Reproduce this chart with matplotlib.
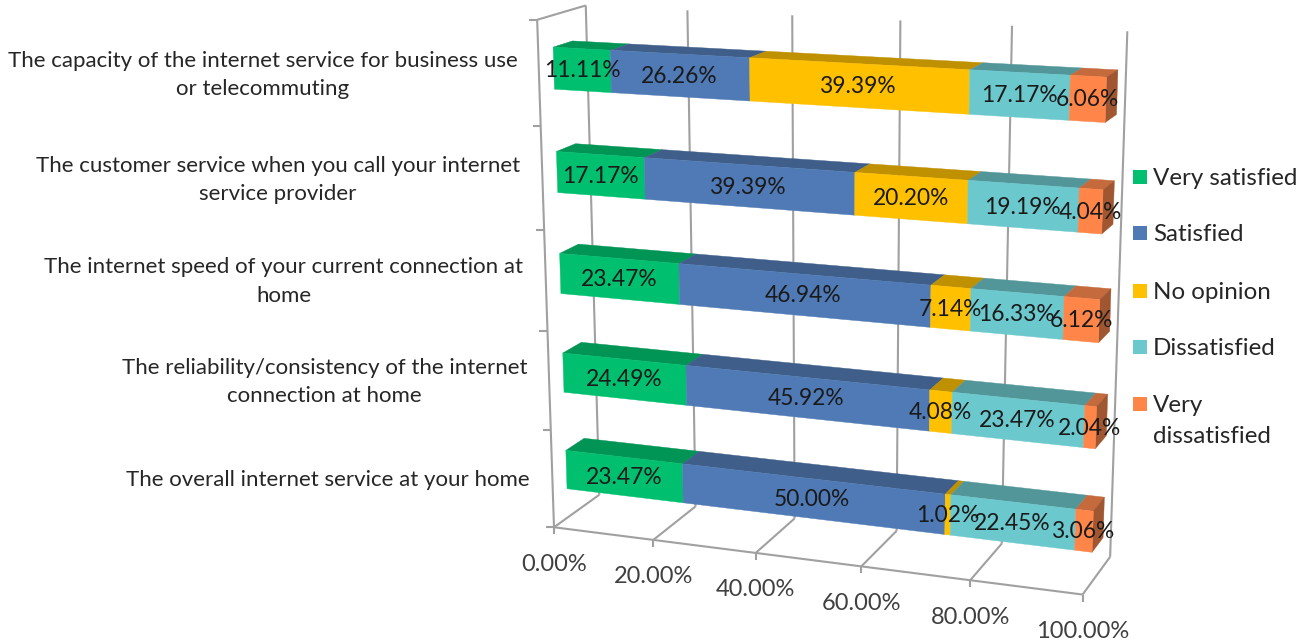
import matplotlib
matplotlib.use('Agg')
import matplotlib.pyplot as plt
import numpy as np
from matplotlib.patches import Polygon, Rectangle

plt.rcParams['font.family'] = ['Lato', 'DejaVu Sans']

# rows listed bottom to top
series_names = ['Very satisfied', 'Satisfied', 'No opinion', 'Dissatisfied', 'Very dissatisfied']
very_satisfied = [23.47, 24.49, 23.47, 17.17, 11.11]
satisfied = [50.00, 45.92, 46.94, 39.39, 26.26]
no_opinion = [1.02, 4.08, 7.14, 20.20, 39.39]
dissatisfied = [22.45, 23.47, 16.33, 19.19, 17.17]
very_dissatisfied = [3.06, 2.04, 6.12, 4.04, 6.06]
x_ticks = [0, 20, 40, 60, 80, 100]
category_lines = [
    ['The overall internet service at your home'],
    ['The reliability/consistency of the internet', 'connection at home'],
    ['The internet speed of your current connection at', 'home'],
    ['The customer service when you call your internet', 'service provider'],
    ['The capacity of the internet service for business use', 'or telecommuting'],
]
legend_lines = [['Very satisfied'], ['Satisfied'], ['No opinion'], ['Dissatisfied'], ['Very', 'dissatisfied']]

front_colors = ['#00BF6F', '#4F7AB5', '#FFC000', '#6BC8CD', '#FF8549']
top_colors = ['#009455', '#3F5F8A', '#BF9000', '#539699', '#C46A3C']
side_colors = ['#007A46', '#344E72', '#9E7700', '#447C7E', '#A05630']
grid_color = '#A0A0A0'

# perspective camera fitted on the frame corners: (value, depth, height) -> pixel
calib_world = [
    (0, 0, 0), (20, 0, 0), (40, 0, 0), (60, 0, 0), (80, 0, 0), (100, 0, 0),
    (0, 1, 0), (100, 1, 0), (0, 0, 1),
    (0, 1, 1), (20, 1, 1), (40, 1, 1), (60, 1, 1), (80, 1, 1), (100, 1, 1),
    (0, .3, .14), (0, .3, .06), (0, .7, .14),
    (100, .3, .14), (100, .3, .06), (100, .7, .14),
    (0, .3, .94), (0, .3, .86), (0, .7, .94),
    (100, .3, .94), (100, .3, .86), (100, .7, .94),
]
calib_pixel = [
    (555, 527), (653, 539), (756, 553), (861, 567), (970, 581), (1082, 594),
    (599, 494), (1110, 557), (537, 20),
    (587, 5), (688, 10), (792, 15), (900, 20), (1012, 25), (1127, 32),
    (566, 451), (566.5, 489), (584, 439),
    (1094, 510), (1093, 552), (1104, 498),
    (553, 47), (554, 89), (572, 42),
    (1106, 77), (1106, 122), (1118, 71),
]


def fit_camera(world, pixel):
    rows = []
    for (x, d, z), (u, v) in zip(world, pixel):
        p = [x / 100, d, z, 1]
        u, v = u / 1000, v / 1000
        rows.append(p + [0, 0, 0, 0] + [-u * c for c in p])
        rows.append([0, 0, 0, 0] + p + [-v * c for c in p])
    return np.linalg.svd(np.array(rows))[2][-1].reshape(3, 4)


camera = fit_camera(calib_world, calib_pixel)


def project(x, d, z):
    q = camera @ np.array([x / 100, d, z, 1])
    return q[0] / q[2] * 1000, q[1] / q[2] * 1000


fig = plt.figure(figsize=(13.06, 6.44), dpi=100)
ax = fig.add_axes([0, 0, 1, 1])
ax.set_xlim(0, 1306)
ax.set_ylim(644, 0)
ax.axis('off')


def line(a, b, lw=1.5):
    ax.plot([a[0], b[0]], [a[1], b[1]], color=grid_color, lw=lw, solid_capstyle='butt', zorder=1)


# frame
for t in x_ticks:
    line(project(t, 1, 0), project(t, 1, 1))
    line(project(t, 0, 0), project(t, 1, 0))
    fx, fy = project(t, 0, 0)
    line((fx, fy), (fx, fy + 7))
    ax.text(fx, fy + 37, '%.2f%%' % t, ha='center', va='center', fontsize=17, color='#404040')
line(project(0, 0, 0), project(100, 0, 0))
line(project(0, 0, 0), project(0, 0, 1))
line(project(0, 0, 1), project(0, 1, 1))
for i in range(6):
    fx, fy = project(0, 0, i / 5)
    line((fx, fy), (fx - 8, fy))

# bars
series = [very_satisfied, satisfied, no_opinion, dissatisfied, very_dissatisfied]
d0, d1 = .3, .7
for row in range(5):
    z0 = (row + .3) / 5
    z1 = (row + .7) / 5
    left = 0
    for s, values in enumerate(series):
        v = values[row]
        right = left + v
        top = [project(left, d0, z1), project(right, d0, z1), project(right, d1, z1), project(left, d1, z1)]
        front = [project(left, d0, z0), project(right, d0, z0), project(right, d0, z1), project(left, d0, z1)]
        ax.add_patch(Polygon(top, fc=top_colors[s], ec=top_colors[s], lw=.3, zorder=2))
        ax.add_patch(Polygon(front, fc=front_colors[s], ec=front_colors[s], lw=.3, zorder=3))
        if s == len(series) - 1:
            side = [project(right, d0, z0), project(right, d1, z0), project(right, d1, z1), project(right, d0, z1)]
            ax.add_patch(Polygon(side, fc=side_colors[s], ec=side_colors[s], lw=.3, zorder=2))
        lx, ly = project(left + v / 2, d0, (z0 + z1) / 2)
        ax.text(lx, ly + 1, '%.2f%%' % v, ha='center', va='center', fontsize=16.4, color='#1A1A1A', zorder=5)
        left = right

# category labels, one text per line
category_centers = [328, 324.5, 284, 278, 263]
category_ys = [[480], [368, 396], [267, 296], [166, 194], [61, 89]]
for lines, x, ys in zip(category_lines, category_centers, category_ys):
    for txt, y in zip(lines, ys):
        ax.text(x, y, txt, ha='center', va='center', fontsize=16, color='#262626')

# legend
legend_ys = [[178], [234], [292], [348], [405, 436]]
for s, (lines, ys) in enumerate(zip(legend_lines, legend_ys)):
    ax.add_patch(Rectangle((1132.5, ys[0] - 8), 14, 14, fc=front_colors[s], ec='none'))
    for txt, y in zip(lines, ys):
        ax.text(1153, y, txt, ha='left', va='center', fontsize=17.4, color='#262626')

fig.savefig('out.png', dpi=100)
